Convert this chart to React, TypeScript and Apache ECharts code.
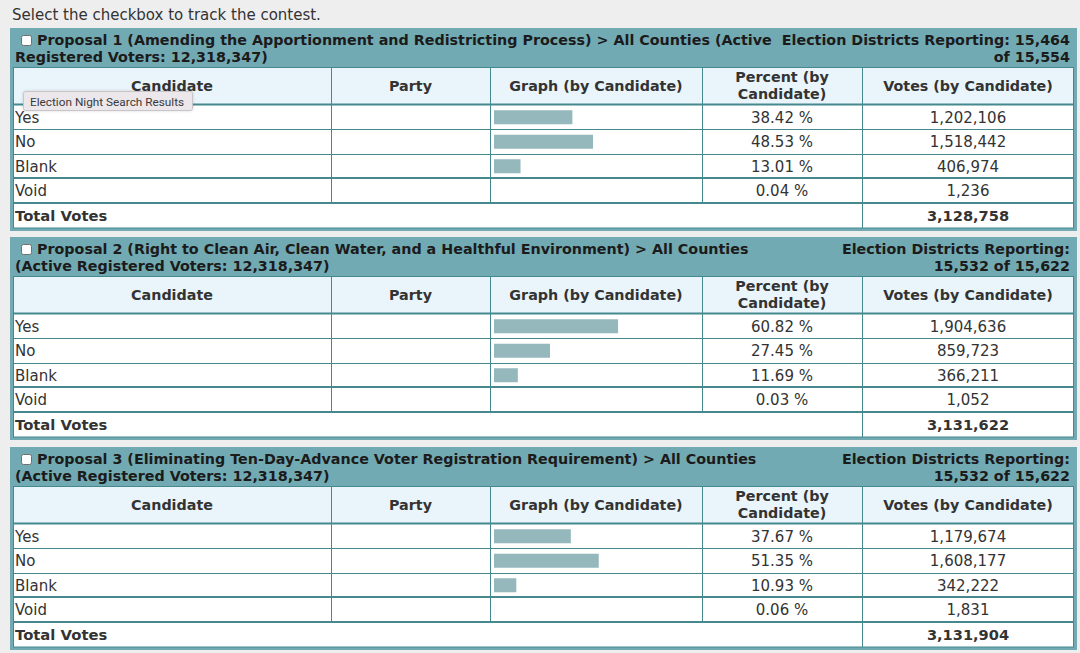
import React, { useEffect, useRef } from "react";
import * as echarts from "echarts";

// ---------- data ----------
const candidates = ["Yes", "No", "Blank", "Void"];

const p1Percent = [38.42, 48.53, 13.01, 0.04];
const p1Votes = [1202106, 1518442, 406974, 1236];
const p1Total = 3128758;
const p1TitleLeft = [
  "Proposal 1 (Amending the Apportionment and Redistricting Process) > All Counties (Active",
  "Registered Voters: 12,318,347)",
];
const p1TitleRight = ["Election Districts Reporting: 15,464", "of 15,554"];

const p2Percent = [60.82, 27.45, 11.69, 0.03];
const p2Votes = [1904636, 859723, 366211, 1052];
const p2Total = 3131622;
const p2TitleLeft = [
  "Proposal 2 (Right to Clean Air, Clean Water, and a Healthful Environment) > All Counties",
  "(Active Registered Voters: 12,318,347)",
];
const p2TitleRight = ["Election Districts Reporting:", "15,532 of 15,622"];

const p3Percent = [37.67, 51.35, 10.93, 0.06];
const p3Votes = [1179674, 1608177, 342222, 1831];
const p3Total = 3131904;
const p3TitleLeft = [
  "Proposal 3 (Eliminating Ten-Day-Advance Voter Registration Requirement) > All Counties",
  "(Active Registered Voters: 12,318,347)",
];
const p3TitleRight = ["Election Districts Reporting:", "15,532 of 15,622"];

const columnHeaders = ["Candidate", "Party", "Graph (by Candidate)", "Percent (by\nCandidate)", "Votes (by Candidate)"];
const introText = "Select the checkbox to track the contest.";
const totalLabel = "Total Votes";
const tooltipText = "Election Night Search Results";

// ---------- styles / layout ----------
const FONT = '"DejaVu Sans", Verdana, sans-serif';
const BAND = "#72aab3";
const LINE = "#45898f";
const HEAD_BG = "#e9f5fb";
const BAR = "#95b8bd";
const TEXT = "#333333";
const TITLE = "#1b1b1b";
const BOLD = `bold 14.3px ${FONT}`;
const REG = `15px ${FONT}`;

const tableTops = [28, 237, 447];
const colX = [13, 331, 490, 702, 862, 1074];
const rowOff = [77, 101, 126, 150, 175, 199];

export default function App() {
  const ref = useRef<HTMLDivElement>(null);

  useEffect(() => {
    if (!ref.current) return;
    const chart = echarts.init(ref.current, null, { renderer: "svg" });

    const tables = [
      { pct: p1Percent, votes: p1Votes, total: p1Total, left: p1TitleLeft, right: p1TitleRight },
      { pct: p2Percent, votes: p2Votes, total: p2Total, left: p2TitleLeft, right: p2TitleRight },
      { pct: p3Percent, votes: p3Votes, total: p3Total, left: p3TitleLeft, right: p3TitleRight },
    ];

    const fmt = (n: number) => n.toLocaleString("en-US");
    const g: any[] = [];
    const txt = (text: string, x: number, y: number, font: string, align = "left", fill = TEXT, z = 10) =>
      g.push({
        type: "text",
        z,
        style: { text, x, y, font, fill, textAlign: align, textVerticalAlign: "middle" },
      });
    const hline = (x1: number, x2: number, y: number, w: number) =>
      g.push({ type: "line", z: 5, shape: { x1, y1: y, x2, y2: y }, style: { stroke: LINE, lineWidth: w } });
    const vline = (x: number, y1: number, y2: number, w = 1) =>
      g.push({ type: "line", z: 5, shape: { x1: x, y1, x2: x, y2 }, style: { stroke: LINE, lineWidth: w } });

    txt(introText, 12, 15, REG, "left", TEXT);

    const grids: any[] = [];
    const xAxes: any[] = [];
    const yAxes: any[] = [];
    const series: any[] = [];

    tables.forEach((t, i) => {
      const T = tableTops[i];
      g.push({ type: "rect", z: 1, shape: { x: 10, y: T, width: 1067, height: 203 }, style: { fill: BAND } });
      g.push({ type: "rect", z: 2, shape: { x: 13, y: T + 39, width: 1061, height: 161 }, style: { fill: "#ffffff" } });
      g.push({ type: "rect", z: 3, shape: { x: 13, y: T + 39, width: 1061, height: 37 }, style: { fill: HEAD_BG } });
      g.push({
        type: "rect",
        z: 6,
        shape: { x: 21.5, y: T + 7.5, width: 10, height: 10, r: 2 },
        style: { fill: "#ffffff", stroke: "#6f6f6f", lineWidth: 1 },
      });
      txt(t.left[0], 37, T + 12, BOLD, "left", TITLE);
      txt(t.left[1], 15, T + 29, BOLD, "left", TITLE);
      txt(t.right[0], 1070, T + 12, BOLD, "right", TITLE);
      txt(t.right[1], 1070, T + 29, BOLD, "right", TITLE);

      hline(13, 1074, T + 39.5, 1);
      hline(13, 1074, T + 76.5, 2);
      hline(13, 1074, T + rowOff[1] + 0.5, 1);
      hline(13, 1074, T + rowOff[2] + 0.5, 1);
      hline(13, 1074, T + rowOff[3], 2);
      hline(13, 1074, T + rowOff[4], 2);
      hline(13, 1074, T + 200, 1);
      vline(13.5, T + 39, T + 200);
      vline(1073.5, T + 39, T + 200);
      [1, 2, 3].forEach((c) => vline(colX[c] + 0.5, T + 39, T + rowOff[4]));
      vline(colX[4] + 0.5, T + 39, T + 200);

      const centers = colX.slice(0, 5).map((x, k) => (x + colX[k + 1]) / 2);
      columnHeaders.forEach((h, k) => {
        if (h.includes("\n")) {
          const parts = h.split("\n");
          txt(parts[0], centers[k], T + 49, BOLD, "center", TEXT);
          txt(parts[1], centers[k], T + 66, BOLD, "center", TEXT);
        } else {
          txt(h, centers[k], T + 58, BOLD, "center", TEXT);
        }
      });

      candidates.forEach((c, r) => {
        const cy = T + (rowOff[r] + rowOff[r + 1]) / 2 + 0.5;
        txt(c, 15, cy, REG, "left", TEXT);
        txt(`${t.pct[r].toFixed(2)} %`, centers[3], cy, REG, "center", TEXT);
        txt(fmt(t.votes[r]), centers[4], cy, REG, "center", TEXT);
      });
      const ty = T + (rowOff[4] + 200) / 2 - 0.5;
      txt(totalLabel, 15, ty, `bold 14.8px ${FONT}`, "left", TEXT);
      txt(fmt(t.total), centers[4], ty, `bold 14.6px ${FONT}`, "center", TEXT);

      grids.push({ left: 494, width: 204, top: T + rowOff[0], height: rowOff[4] - rowOff[0], containLabel: false });
      xAxes.push({ gridIndex: i, type: "value", min: 0, max: 100, show: false });
      yAxes.push({ gridIndex: i, type: "category", data: candidates, inverse: true, show: false });
      series.push({
        type: "bar",
        xAxisIndex: i,
        yAxisIndex: i,
        data: t.pct,
        barWidth: 14,
        itemStyle: { color: BAR },
        z: 20,
        silent: true,
      });
    });

    g.push({
      type: "rect",
      z: 50,
      shape: { x: 23.5, y: 91.5, width: 169, height: 19, r: 2 },
      style: { fill: "#ece7eb", stroke: "#c9c4c8", lineWidth: 1, shadowBlur: 3, shadowColor: "rgba(0,0,0,0.15)" },
    });
    txt(tooltipText, 30, 101.5, `11.8px Roboto, "Liberation Sans", sans-serif`, "left", "#3a3a3a", 51);

    chart.setOption({
      animation: false,
      backgroundColor: "#eeeeee",
      textStyle: { fontFamily: FONT },
      grid: grids,
      xAxis: xAxes,
      yAxis: yAxes,
      series,
      graphic: { elements: g },
    });

    return () => chart.dispose();
  }, []);

  return (
    <div
      ref={ref}
      style={{ position: "fixed", left: 0, top: 0, width: 1080, height: 653 }}
    />
  );
}
